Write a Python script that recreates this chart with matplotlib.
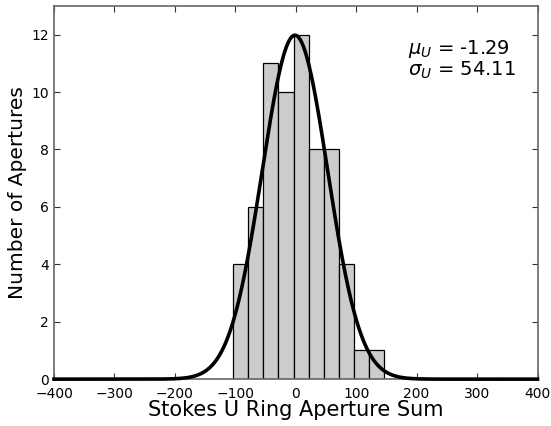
import numpy as np
import matplotlib
matplotlib.use("Agg")
import matplotlib.pyplot as plt

bin_edges = [-103.6, -78.6, -53.6, -28.6, -3.6, 21.4, 46.4, 71.4, 96.4, 121.4, 146.4]
counts = [4, 6, 11, 10, 12, 8, 8, 4, 1, 1]
mu = -1.29
sigma = 54.11
xticks = [-400, -300, -200, -100, 0, 100, 200, 300, 400]
yticks = [0, 2, 4, 6, 8, 10, 12]

fig = plt.figure(figsize=(5.51, 4.26), dpi=100)
ax = fig.add_axes([0.098, 0.110, 0.8775, 0.876])

edges = np.array(bin_edges)
widths = np.diff(edges)
ax.bar(edges[:-1], counts, width=widths, align='edge', facecolor='#cccccc',
       edgecolor='black', linewidth=0.9, zorder=2)

n = sum(counts)
bw = widths.mean()
x = np.linspace(-400, 400, 2000)
y = n * bw / (sigma * np.sqrt(2 * np.pi)) * np.exp(-0.5 * ((x - mu) / sigma) ** 2)
ax.plot(x, y, color='black', linewidth=2.6, zorder=3, clip_on=False)

ax.set_xlim(-400, 400)
ax.set_ylim(0, 13)
ax.set_xticks(xticks)
ax.set_yticks(yticks)
ax.tick_params(direction='in', top=True, right=True, labelsize=10, length=4, width=0.8, color='#333333')
ax.tick_params(axis='x', pad=5.8)
for s in ax.spines.values():
    s.set_color('#666666')
    s.set_linewidth(1.2)

ax.set_xlabel('Stokes U Ring Aperture Sum', fontsize=15, labelpad=-1)
ax.set_ylabel('Number of Apertures', fontsize=14.5, labelpad=3)

ax.text(0.732, 0.915, r'$\mu_U$ = -1.29' + '\n' + r'$\sigma_U$ = 54.11',
        transform=ax.transAxes, fontsize=14, va='top', ha='left', linespacing=1.0)

fig.savefig('out.png', dpi=100)
